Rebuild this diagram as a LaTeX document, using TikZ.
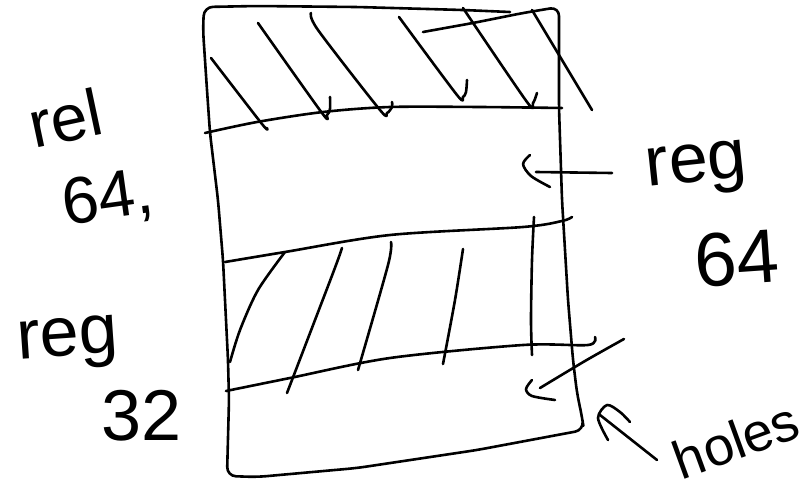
\documentclass[tikz,border=0pt]{standalone}
\usepackage{fontspec}
\setmainfont{Liberation Sans}
\begin{document}
\begin{tikzpicture}[x=1pt,y=-1pt,
  ink/.style={line width=2.6pt, line cap=round, line join=round, black},
  hand/.style={inner sep=0pt, text=black},
  sm/.style={smooth, tension=0.5}]
\useasboundingbox (0,0) rectangle (812,493);
% outline of the block
\draw[ink, rounded corners=9pt] (510,12) -- (463,10) -- (357,7) -- (257,6) -- (204,7) -- (203,30) -- (207,90) -- (210,133) -- (218,200) -- (223,260) -- (228,360) -- (229,400) -- (227,476) -- (257,477) -- (357,468) -- (477,450) -- (584,430) -- (582,417) -- (577,393) -- (573,360) -- (568,300) -- (562,200) -- (559,108) -- (559,7) -- (523,13) -- (473,23) -- (423,32);
% dividing lines
\draw[ink] plot[sm] coordinates {(205,133) (257,122) (323,112) (390,107) (480,107) (562,108)};
\draw[ink] plot[sm] coordinates {(225,262) (285,252) (390,235) (523,227) (562,221) (572,217)};
\draw[ink] plot[sm] coordinates {(226,391) (290,378) (390,358) (523,345) (588,345) (595,337)};
% hatching, top section
\draw[ink] plot[sm] coordinates {(211,58) (262,124) (267,128)};
\draw[ink] plot[sm] coordinates {(258,23) (322,113) (327,115) (330,109) (330,97)};
\draw[ink] plot[sm] coordinates {(311,13) (318,30) (380,110) (387,113) (392,107) (392,102)};
\draw[ink] plot[sm] coordinates {(399,17) (457,95) (463,97) (466,92) (467,80)};
\draw[ink] plot[sm] coordinates {(463,8) (527,102) (533,103) (537,93)};
\draw[ink] (532,10) -- (592,110);
% hatching, middle section
\draw[ink] plot[sm] coordinates {(285,252) (258,290) (240,330) (230,362)};
\draw[ink] plot[sm] coordinates {(342,248) (333,273) (287,393)};
\draw[ink] plot[sm] coordinates {(391,242) (388,265) (358,370)};
\draw[ink] plot[sm] coordinates {(463,249) (455,300) (443,364)};
\draw[ink] plot[sm] coordinates {(534,217) (532,260) (531,320) (532,355)};
% arrows
\coordinate (a1s) at (612,173); \coordinate (a1e) at (536,172);
\draw[ink] (a1s) -- (a1e);
\draw[ink] plot[sm] coordinates {(530,155) (523,164) (531,176) (550,187)};
\coordinate (a2s) at (624,339); \coordinate (a2e) at (540,388);
\draw[ink] plot[sm] coordinates {(a2s) (585,361) (a2e)};
\draw[ink] plot[sm] coordinates {(532,380) (526,389) (532,396) (555,400)};
\coordinate (a3s) at (657,460); \coordinate (a3e) at (600,415);
\draw[ink] (a3s) -- (a3e);
\draw[ink] plot[sm] coordinates {(608,440) (598,418) (607,405) (620,412) (630,422)};
% labels
\node[hand, rotate=12] (rel) at (65,118) {\fontsize{66}{66}\selectfont rel};
\node[hand, rotate=8] (rel64) at (108,200) {\fontsize{66}{66}\selectfont 64,};
\node[hand, rotate=6] (reg1) at (697,170) {\fontsize{70}{70}\selectfont reg};
\node[hand, rotate=4] (reg64) at (737,258) {\fontsize{76}{76}\selectfont 64};
\node[hand, rotate=4] (reg2) at (68,344) {\fontsize{70}{70}\selectfont reg};
\node[hand] (reg32) at (142,416) {\fontsize{72}{72}\selectfont 32};
\node[hand, rotate=20] (holes) at (736,440) {\fontsize{54}{54}\selectfont holes};
\end{tikzpicture}
\end{document}
